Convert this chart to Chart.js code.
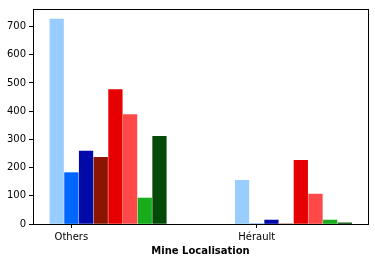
<!DOCTYPE html>
<html lang="en">
    <head>
        <meta charset="UTF-8">
        <title>Mine Localisation</title>
        <script src="https://cdn.jsdelivr.net/npm/chart.js"></script>
        <style>
            html, body { margin: 0; padding: 0; background: #fff; }
            #wrap { width: 375px; height: 262px; }
        </style>
    </head>
    <body>
        <div id="wrap"><canvas id="mineChart" width="375" height="262"></canvas></div>
        <script>
            // categories on the x axis
            const localisations = ['Others', 'Hérault'];
            // one value per category for each series
            const lightBlue = [726, 155];
            const blue = [182, 0];
            const darkBlue = [258, 14];
            const darkRed = [236, 0];
            const red = [476, 226];
            const lightRed = [388, 106];
            const green = [92, 14];
            const darkGreen = [311, 4];
            const yTicks = [0, 100, 200, 300, 400, 500, 600, 700];

            const series = [lightBlue, blue, darkBlue, darkRed, red, lightRed, green, darkGreen];
            const colores = ['#99ccff', '#0066ff', '#000aa8', '#8b1500', '#e60000', '#ff4848', '#19ad1e', '#054a08'];
            const paso = 0.0792;

            const datasets = series.map((valores, i) => ({
                data: valores.map((v, g) => ({ x: g + (i - 1) * paso, y: v })),
                backgroundColor: colores[i],
                borderWidth: 0,
                barThickness: 13.6,
                grouped: false
            }));

            const marco = {
                id: 'marco',
                afterDraw(chart) {
                    const { ctx, chartArea: a } = chart;
                    ctx.save();
                    ctx.strokeStyle = '#000';
                    ctx.lineWidth = 1;
                    ctx.strokeRect(a.left + 0.5, a.top + 0.5, a.right - a.left, a.bottom - a.top);
                    ctx.restore();
                }
            };

            const fuente = { family: 'DejaVu Sans', size: 10 };

            new Chart(document.getElementById('mineChart'), {
                type: 'bar',
                data: { datasets },
                plugins: [marco],
                options: {
                    responsive: false,
                    animation: false,
                    layout: { padding: { top: 6, right: 7, left: 0, bottom: 5 } },
                    plugins: { legend: { display: false }, tooltip: { enabled: false } },
                    scales: {
                        x: {
                            type: 'linear',
                            offset: false,
                            min: -0.207,
                            max: 1.6,
                            afterBuildTicks(scale) {
                                scale.ticks = localisations.map((_, i) => ({ value: i }));
                            },
                            afterFit(scale) { scale.height = 33; },
                            ticks: {
                                callback: (v) => localisations[v],
                                color: '#000',
                                font: fuente,
                                padding: 3,
                                maxRotation: 0
                            },
                            grid: { drawOnChartArea: false, offset: false, tickLength: 4, color: '#000' },
                            border: { display: false },
                            title: {
                                display: true,
                                text: 'Mine Localisation',
                                color: '#000',
                                font: { family: 'DejaVu Sans', size: 10, weight: 'bold' },
                                padding: { top: 2, bottom: 0 }
                            }
                        },
                        y: {
                            min: 0,
                            max: 762,
                            afterBuildTicks(scale) {
                                scale.ticks = yTicks.map((v) => ({ value: v }));
                            },
                            afterFit(scale) { scale.width = 33; },
                            ticks: { color: '#000', font: fuente, padding: 3 },
                            grid: { drawOnChartArea: false, tickLength: 4, color: '#000' },
                            border: { display: false }
                        }
                    }
                }
            });
        </script>
    </body>
</html>
